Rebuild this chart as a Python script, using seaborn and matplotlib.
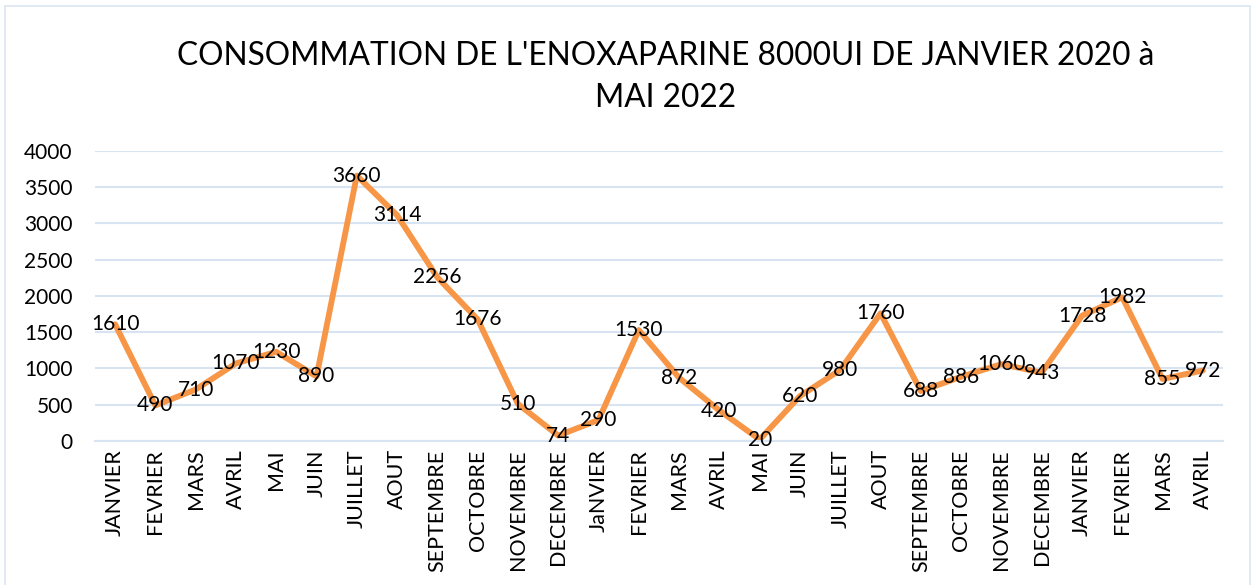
import numpy as np
import pandas as pd
import matplotlib
matplotlib.use("Agg")
import matplotlib.pyplot as plt
import seaborn as sns
from matplotlib.patches import Rectangle

# Données mensuelles (janvier 2020 -> avril 2022)
mois = [
    "JANVIER", "FEVRIER", "MARS", "AVRIL", "MAI", "JUIN", "JUILLET", "AOUT",
    "SEPTEMBRE", "OCTOBRE", "NOVEMBRE", "DECEMBRE",
    "JaNVIER", "FEVRIER", "MARS", "AVRIL", "MAI", "JUIN", "JUILLET", "AOUT",
    "SEPTEMBRE", "OCTOBRE", "NOVEMBRE", "DECEMBRE",
    "JANVIER", "FEVRIER", "MARS", "AVRIL",
]
consommation = [
    1610, 490, 710, 1070, 1230, 890, 3660, 3114, 2256, 1676, 510, 74,
    290, 1530, 872, 420, 20, 620, 980, 1760, 688, 886, 1060, 943,
    1728, 1982, 855, 972,
]
yticks = [0, 500, 1000, 1500, 2000, 2500, 3000, 3500, 4000]

titre = "CONSOMMATION DE L'ENOXAPARINE 8000UI DE JANVIER 2020 à\nMAI 2022"

sns.set_theme(style="white")
plt.rcParams["font.family"] = ["Lato", "DejaVu Sans"]

ORANGE = "#F79646"
GRILLE = "#D9E4F2"

df = pd.DataFrame({"pos": np.arange(len(mois)), "valeur": consommation})

fig = plt.figure(figsize=(12.51, 5.85), dpi=100)
ax = fig.add_axes([0.0759, 0.2462, 0.9017, 0.4957])

sns.lineplot(data=df, x="pos", y="valeur", ax=ax, color=ORANGE, linewidth=4.2)

for i, v in enumerate(consommation):
    ax.text(i, v, str(v), ha="center", va="center", fontsize=15, color="black")

ax.set_xlim(-0.5, len(mois) - 0.5)
ax.set_ylim(0, 4000)
ax.set_yticks(yticks)
ax.set_yticklabels([str(t) for t in yticks], fontsize=15, color="black")
ax.set_xticks(np.arange(len(mois)))
ax.set_xticklabels(mois, rotation=90, fontsize=15.5, color="black")
ax.set_xticks(np.arange(-0.5, len(mois)), minor=True)
ax.tick_params(axis="x", which="major", length=0, pad=6)
ax.tick_params(axis="x", which="minor", length=7, width=1.2, color=GRILLE)
ax.tick_params(axis="y", length=0, pad=16)
ax.set_xlabel("")
ax.set_ylabel("")

ax.yaxis.grid(True, color=GRILLE, linewidth=1.5)
ax.set_axisbelow(True)
for s in ["top", "right", "left"]:
    ax.spines[s].set_visible(False)
ax.spines["bottom"].set_color(GRILLE)
ax.spines["bottom"].set_linewidth(1.5)

fig.text(0.532, 0.869, titre, ha="center", va="center", fontsize=22.8,
         linespacing=1.5, color="black")

# Cadre du graphique
fig.patches.append(Rectangle((0.004, -0.05), 0.995, 1.04, transform=fig.transFigure,
                             fill=False, edgecolor="#DCE6F2", linewidth=1.2))

fig.savefig("out.png", dpi=100)
